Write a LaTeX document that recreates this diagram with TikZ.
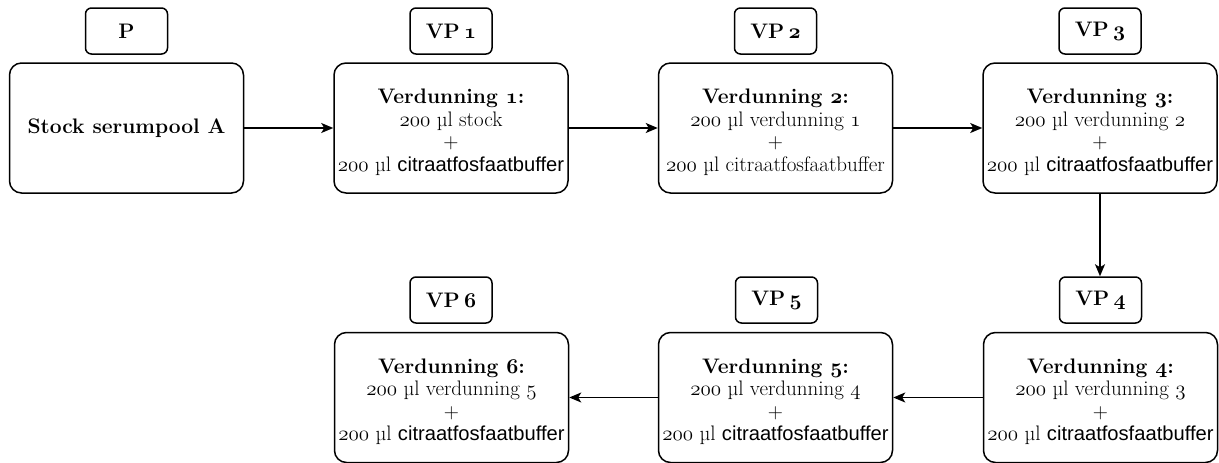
\RequirePackage{fix-cm}
\documentclass[tikz,border=0pt]{standalone}
\usepackage{fontspec}
\newfontfamily\sansf{Liberation Sans}[Scale=0.96]
\usetikzlibrary{arrows.meta}
% old-style figures taken from the math italic font
\newcommand\osr[1]{{\usefont{OML}{cmm}{m}{it}#1}}
\newcommand\osb[1]{{\usefont{OML}{cmm}{b}{it}#1}}
% strut that lowers the text block a little inside its box
\newcommand\topstrut{\rule{0pt}{23pt}}
\newcommand\mix[2]{\topstrut\textbf{Verdunning \osb{#1}:}\\#2\\+\\\osr{200} µl {\sansf citraatfosfaatbuffer}}
\begin{document}
\begin{tikzpicture}[x=1pt,y=-1pt,
  big/.style={draw, rounded corners=12pt, line width=1.5pt, minimum width=234pt,
    minimum height=130pt, align=center, inner sep=0pt,
    font=\fontsize{21}{22.5}\selectfont},
  tag/.style={draw, rounded corners=6pt, line width=1.5pt, minimum width=82pt,
    minimum height=46pt, inner sep=0pt, font=\fontsize{21}{22.5}\selectfont\bfseries},
  flow/.style={line width=1.5pt, -{Stealth[length=12pt,width=10pt,inset=3pt]}}]
\useasboundingbox (0,0) rectangle (1219,463);

% top row
\node[big] (s)  at (126.5,128) {\textbf{Stock serumpool A}};
\node[big] (v1) at (451,128) {\mix{1}{\osr{200} µl stock}};
\node[big] (v2) at (775.5,128) {\topstrut\textbf{Verdunning \osb{2}:}\\\osr{200} µl verdunning \osr{1}\\+\\\osr{200} µl citraatfosfaatbuffer};
\node[big] (v3) at (1100,128) {\mix{3}{\osr{200} µl verdunning \osr{2}}};

\node[tag] (p)   at (126.5,31) {P};
\node[tag] (vp1) at (451,31) {VP\hspace{0.2em}\osb{1}};
\node[tag] (vp2) at (775.5,31) {VP\hspace{0.2em}\osb{2}};
\node[tag] (vp3) at (1100,31) {VP\hspace{0.2em}\osb{3}};

% bottom row
\node[big] (v4) at (1100.5,397.5) {\mix{4}{\osr{200} µl verdunning \osr{3}}};
\node[big] (v5) at (775.5,397.5) {\mix{5}{\osr{200} µl verdunning \osr{4}}};
\node[big] (v6) at (451.5,397.5) {\mix{6}{\osr{200} µl verdunning \osr{5}}};

\node[tag] (vp4) at (1100.5,300) {VP\hspace{0.2em}\osb{4}};
\node[tag] (vp5) at (776.5,300) {VP\hspace{0.2em}\osb{5}};
\node[tag] (vp6) at (451,300) {VP\hspace{0.2em}\osb{6}};

% flow of the dilution series
\draw[flow] (s) -- (v1);
\draw[flow] (v1) -- (v2);
\draw[flow] (v2) -- (v3);
\draw[flow] (v3.south) -- (v3.south |- vp4.north);
\draw[flow] (v4) -- (v5);
\draw[flow] (v5) -- (v6);
\end{tikzpicture}
\end{document}
